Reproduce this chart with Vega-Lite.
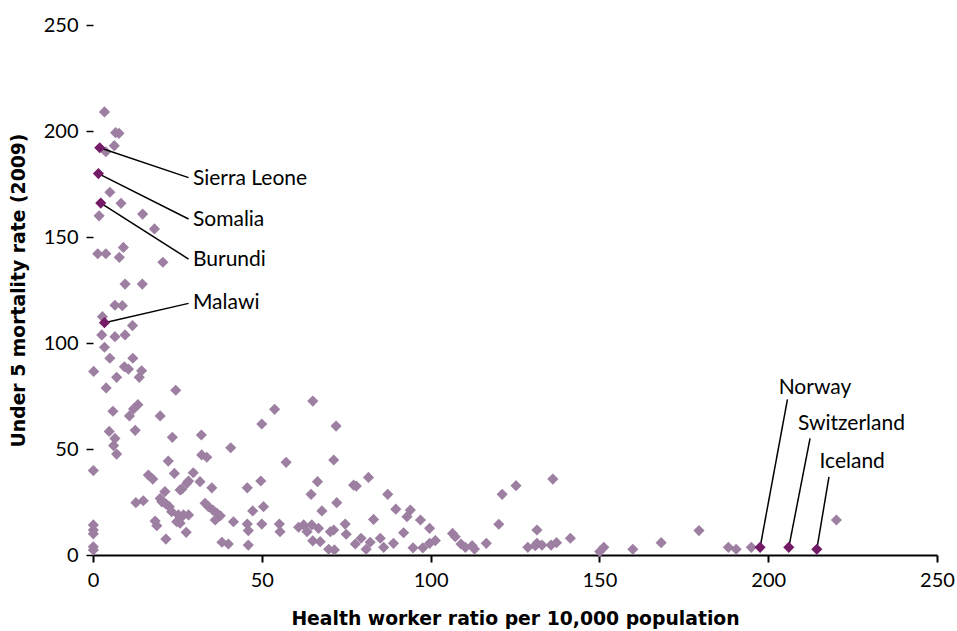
{
  "$schema": "https://vega.github.io/schema/vega-lite/v6.json",
  "autosize": "none",
  "width": 844,
  "height": 530,
  "padding": {"left": 93, "top": 25, "right": 20, "bottom": 76},
  "background": "white",
  "config": {"font": "Lato", "view": {"stroke": null}},
  "datasets": {
    "points": [
      {"x": 3.4, "y": 209}, {"x": 6.7, "y": 199.2}, {"x": 7.7, "y": 198.9}, {"x": 3.8, "y": 190.2}, {"x": 6.3, "y": 193.1},
      {"x": 5.0, "y": 171.1}, {"x": 8.3, "y": 165.9}, {"x": 1.8, "y": 160}, {"x": 14.7, "y": 160.8}, {"x": 18.2, "y": 153.8},
      {"x": 1.4, "y": 142.1}, {"x": 3.8, "y": 142.1}, {"x": 9.0, "y": 145.1}, {"x": 7.8, "y": 140.4}, {"x": 20.7, "y": 138.1},
      {"x": 9.5, "y": 127.8}, {"x": 14.6, "y": 127.8}, {"x": 6.5, "y": 117.8}, {"x": 8.7, "y": 117.6}, {"x": 2.8, "y": 112.4},
      {"x": 11.7, "y": 108.2}, {"x": 2.6, "y": 103.8}, {"x": 6.5, "y": 103}, {"x": 9.5, "y": 103.8}, {"x": 3.4, "y": 98},
      {"x": 5.0, "y": 92.8}, {"x": 11.8, "y": 92.8}, {"x": 0.2, "y": 86.6}, {"x": 9.3, "y": 88.8}, {"x": 10.5, "y": 87.7},
      {"x": 14.4, "y": 86.9}, {"x": 7.0, "y": 83.8}, {"x": 13.7, "y": 83.8}, {"x": 3.9, "y": 78.8}, {"x": 24.5, "y": 77.7},
      {"x": 5.9, "y": 67.8}, {"x": 13.3, "y": 70.9}, {"x": 12.0, "y": 68.9}, {"x": 10.8, "y": 65.6}, {"x": 19.9, "y": 65.6},
      {"x": 4.8, "y": 58.3}, {"x": 6.5, "y": 55.0}, {"x": 6.1, "y": 51.6}, {"x": 7.0, "y": 47.6}, {"x": 12.5, "y": 58.8},
      {"x": 23.5, "y": 55.5}, {"x": 32.1, "y": 56.6}, {"x": 40.8, "y": 50.6}, {"x": 32.2, "y": 47.2}, {"x": 33.7, "y": 46.1},
      {"x": 22.3, "y": 44.3}, {"x": 0.1, "y": 39.8}, {"x": 16.4, "y": 37.7}, {"x": 17.7, "y": 35.8}, {"x": 24.1, "y": 38.5},
      {"x": 29.7, "y": 38.8}, {"x": 28.3, "y": 34.9}, {"x": 27.8, "y": 33.8}, {"x": 31.7, "y": 34.6}, {"x": 35.2, "y": 31.7},
      {"x": 26.3, "y": 31.0}, {"x": 25.8, "y": 30.7}, {"x": 21.3, "y": 29.9}, {"x": 19.9, "y": 26.7}, {"x": 20.4, "y": 25.1},
      {"x": 21.6, "y": 24.1}, {"x": 22.6, "y": 22.8}, {"x": 23.3, "y": 20.4}, {"x": 12.7, "y": 24.7}, {"x": 14.9, "y": 25.6},
      {"x": 33.2, "y": 24.4}, {"x": 34.2, "y": 22.8}, {"x": 35.5, "y": 21.2}, {"x": 36.7, "y": 19.7}, {"x": 37.7, "y": 18.5},
      {"x": 36.2, "y": 16.5}, {"x": 25.3, "y": 18.9}, {"x": 26.8, "y": 18.9}, {"x": 28.3, "y": 18.9}, {"x": 25.8, "y": 17.3},
      {"x": 24.8, "y": 15.7}, {"x": 25.8, "y": 15.0}, {"x": 41.6, "y": 15.7}, {"x": 18.4, "y": 16.0}, {"x": 18.9, "y": 13.8},
      {"x": 27.6, "y": 10.7}, {"x": 21.6, "y": 7.5}, {"x": 38.2, "y": 6.0}, {"x": 40.1, "y": 5.2}, {"x": 0.1, "y": 14.2},
      {"x": 0.1, "y": 11.8}, {"x": 0.1, "y": 10}, {"x": 0.1, "y": 3.9}, {"x": 0.1, "y": 2.4}, {"x": 65.1, "y": 72.6},
      {"x": 53.8, "y": 68.7}, {"x": 50.0, "y": 61.8}, {"x": 72.0, "y": 60.8}, {"x": 57.2, "y": 43.7}, {"x": 71.3, "y": 44.8},
      {"x": 49.7, "y": 34.9}, {"x": 45.7, "y": 31.7}, {"x": 66.5, "y": 34.6}, {"x": 64.6, "y": 28.6}, {"x": 77.2, "y": 33.0},
      {"x": 78.0, "y": 32.5}, {"x": 81.6, "y": 36.6}, {"x": 87.3, "y": 28.6}, {"x": 72.2, "y": 24.7}, {"x": 67.8, "y": 20.8},
      {"x": 47.3, "y": 20.8}, {"x": 50.5, "y": 22.8}, {"x": 45.7, "y": 14.6}, {"x": 46.0, "y": 11.5}, {"x": 50.0, "y": 14.6},
      {"x": 55.2, "y": 14.6}, {"x": 55.4, "y": 11.0}, {"x": 60.9, "y": 13.1}, {"x": 62.4, "y": 14.2}, {"x": 63.4, "y": 11.0},
      {"x": 64.8, "y": 14.2}, {"x": 65.1, "y": 6.7}, {"x": 66.8, "y": 12.6}, {"x": 67.3, "y": 6.3}, {"x": 70.3, "y": 11.0},
      {"x": 71.3, "y": 11.8}, {"x": 74.7, "y": 14.6}, {"x": 75.0, "y": 9.8}, {"x": 69.8, "y": 2.7}, {"x": 71.5, "y": 2.4},
      {"x": 83.1, "y": 16.8}, {"x": 79.4, "y": 7.9}, {"x": 77.7, "y": 5.2}, {"x": 82.1, "y": 6.0}, {"x": 80.9, "y": 2.7},
      {"x": 85.1, "y": 7.9}, {"x": 86.1, "y": 3.6}, {"x": 89.0, "y": 5.5}, {"x": 89.7, "y": 21.6}, {"x": 93.0, "y": 18.1},
      {"x": 94.0, "y": 21.2}, {"x": 97.0, "y": 16.5}, {"x": 92.0, "y": 10.5}, {"x": 94.8, "y": 3.4}, {"x": 97.7, "y": 3.4},
      {"x": 99.7, "y": 12.6}, {"x": 99.7, "y": 5.5}, {"x": 46.0, "y": 4.7}, {"x": 101.4, "y": 6.8}, {"x": 106.5, "y": 10.2},
      {"x": 107.3, "y": 8.6}, {"x": 109.0, "y": 5.2}, {"x": 110.3, "y": 3.6}, {"x": 112.3, "y": 4.4}, {"x": 113.0, "y": 2.8},
      {"x": 116.5, "y": 5.5}, {"x": 121.2, "y": 28.6}, {"x": 125.3, "y": 32.7}, {"x": 120.2, "y": 14.5}, {"x": 136.2, "y": 35.8},
      {"x": 131.5, "y": 11.8}, {"x": 128.8, "y": 3.6}, {"x": 131.0, "y": 4.4}, {"x": 131.5, "y": 5.5}, {"x": 133.0, "y": 4.7},
      {"x": 135.7, "y": 4.7}, {"x": 137.3, "y": 5.8}, {"x": 141.4, "y": 7.9}, {"x": 150.1, "y": 1.6}, {"x": 151.3, "y": 3.6},
      {"x": 159.9, "y": 2.7}, {"x": 168.3, "y": 5.8}, {"x": 179.5, "y": 11.5}, {"x": 188.2, "y": 3.6}, {"x": 190.5, "y": 2.7},
      {"x": 195.0, "y": 3.6}, {"x": 220.2, "y": 16.5}
    ],
    "highlights": [
      {"country": "Sierra Leone", "x": 2.0, "y": 192.1, "lx": 28.3, "ly": 178, "tx": 29.6, "ty": 177.4},
      {"country": "Somalia", "x": 1.6, "y": 179.9, "lx": 28.3, "ly": 158.5, "tx": 29.6, "ty": 158},
      {"country": "Burundi", "x": 2.3, "y": 166, "lx": 28.3, "ly": 139.6, "tx": 29.6, "ty": 139.2},
      {"country": "Malawi", "x": 3.4, "y": 109.6, "lx": 28.3, "ly": 118.7, "tx": 29.6, "ty": 118.7},
      {"country": "Norway", "x": 197.6, "y": 3.6, "lx": 205.7, "ly": 73.4, "tx": 203.1, "ty": 78.8},
      {"country": "Switzerland", "x": 206.1, "y": 3.6, "lx": 212.4, "ly": 55.0, "tx": 208.8, "ty": 61.6},
      {"country": "Iceland", "x": 214.4, "y": 2.7, "lx": 218.0, "ly": 36.9, "tx": 215.2, "ty": 44}
    ]
  },
  "layer": [
    {
      "data": {"name": "points"},
      "mark": {"type": "point", "shape": "diamond", "filled": true, "size": 125, "color": "#9d7fa2", "opacity": 1},
      "encoding": {
        "x": {
          "field": "x", "type": "quantitative",
          "scale": {"domain": [0, 250], "nice": false, "zero": true},
          "axis": {
            "title": "Health worker ratio per 10,000 population",
            "values": [0, 50, 100, 150, 200, 250],
            "grid": false, "domain": true, "domainColor": "black", "domainWidth": 2,
            "ticks": true, "tickColor": "black", "tickWidth": 2, "tickSize": 7,
            "labelFlush": false, "labelOverlap": false,
            "labelFontSize": 20, "labelColor": "black", "labelPadding": 8,
            "titleFont": "DejaVu Sans", "titleFontSize": 18.8, "titleFontWeight": "bold", "titleColor": "black", "titlePadding": 19
          }
        },
        "y": {
          "field": "y", "type": "quantitative",
          "scale": {"domain": [0, 250], "nice": false, "zero": true},
          "axis": {
            "title": "Under 5 mortality rate (2009)",
            "values": [0, 50, 100, 150, 200, 250],
            "grid": false, "domain": false,
            "ticks": true, "tickColor": "black", "tickWidth": 1.5, "tickSize": 7,
            "labelFlush": false, "labelOverlap": false,
            "labelFontSize": 20, "labelColor": "black", "labelPadding": 8,
            "titleFont": "DejaVu Sans", "titleFontSize": 18.8, "titleFontWeight": "bold", "titleColor": "black", "titlePadding": 15
          }
        }
      }
    },
    {
      "data": {"name": "highlights"},
      "mark": {"type": "rule", "color": "black", "strokeWidth": 1.5},
      "encoding": {
        "x": {"field": "x", "type": "quantitative"},
        "y": {"field": "y", "type": "quantitative"},
        "x2": {"field": "lx"},
        "y2": {"field": "ly"}
      }
    },
    {
      "data": {"name": "highlights"},
      "mark": {"type": "point", "shape": "diamond", "filled": true, "size": 125, "color": "#741b68", "opacity": 1},
      "encoding": {
        "x": {"field": "x", "type": "quantitative"},
        "y": {"field": "y", "type": "quantitative"}
      }
    },
    {
      "data": {"name": "highlights"},
      "mark": {"type": "text", "align": "left", "baseline": "middle", "fontSize": 21, "color": "black"},
      "encoding": {
        "x": {"field": "tx", "type": "quantitative"},
        "y": {"field": "ty", "type": "quantitative"},
        "text": {"field": "country"}
      }
    }
  ]
}
